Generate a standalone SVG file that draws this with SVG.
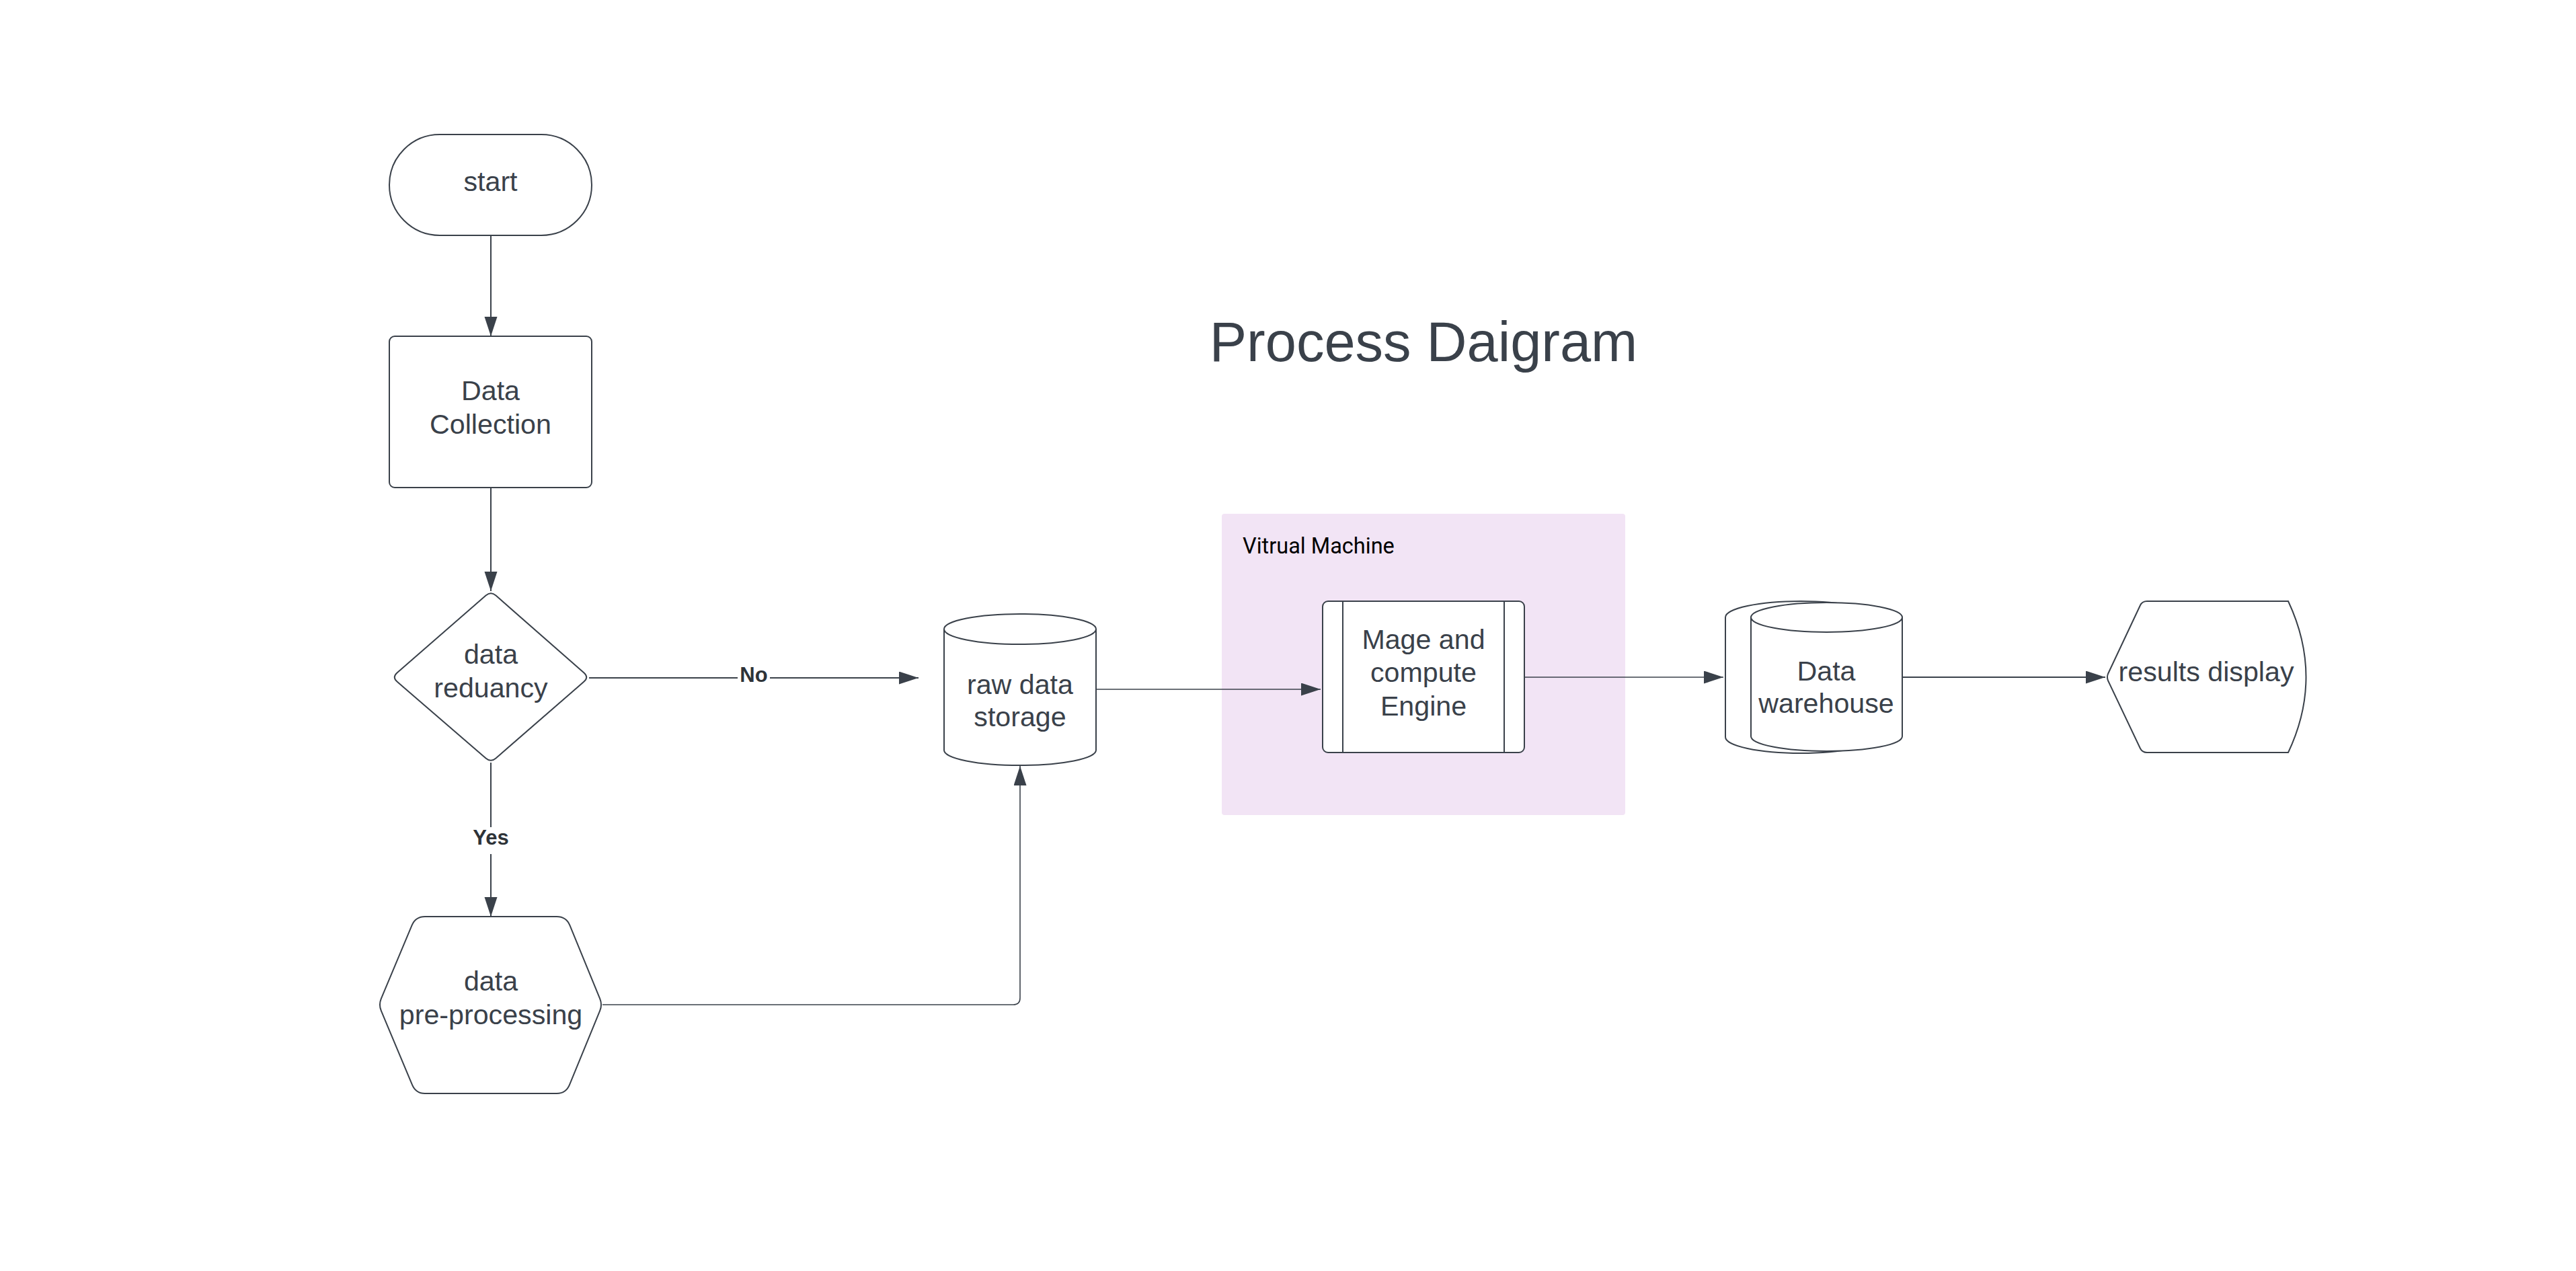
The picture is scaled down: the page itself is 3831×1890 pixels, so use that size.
<svg xmlns="http://www.w3.org/2000/svg" width="3831" height="1890" viewBox="0 0 3831 1890">
<defs>
<marker id="arrow" markerUnits="userSpaceOnUse" markerWidth="30" markerHeight="20" refX="29" refY="9.5" orient="auto">
<path d="M0,0 L29,9.5 L0,19 Z" fill="#3a414a"/>
</marker>
<style>
.shape{fill:#ffffff;stroke:#3a414a;stroke-width:2}
.lbl{font-family:"Liberation Sans",Arial,sans-serif;font-size:41.2px;fill:#3a414a;text-anchor:middle}
.edge{fill:none;stroke:#3a414a;stroke-width:2;marker-end:url(#arrow)}
.thin{stroke-width:1.3}
.elbl{font-family:"Liberation Sans",Arial,sans-serif;font-size:31px;font-weight:bold;fill:#2e3338;text-anchor:middle}
</style>
</defs>
<rect width="3831" height="1890" fill="#ffffff"/>

<g id="title">
<text x="2117" y="537" style="font-family:'Liberation Sans',Arial,sans-serif;font-size:83px;fill:#3a414a;text-anchor:middle">Process Daigram</text>
</g>

<g id="vm-container">
<rect x="1817" y="764" width="600" height="448" rx="4" fill="#f2e4f5"/>
<text x="1848" y="823" style="font-family:Roboto,'Liberation Sans',sans-serif;font-size:32.5px;fill:#000000">Vitrual Machine</text>
</g>

<g id="connectors">
<path class="edge" d="M730,350 V500"/>
<path class="edge" d="M730,725 V879"/>
<path class="edge" d="M876,1008 H1097 M1145,1008 H1366"/>
<path class="edge" d="M730,1134 V1230 M730,1270 V1363"/>
<path class="edge" style="stroke-width:1.6" d="M896,1494 H1507 Q1517,1494 1517,1484 V1139"/>
<path class="edge thin" d="M1630,1025 H1964"/>
<path class="edge" style="stroke-width:1.5" d="M2267,1007 H2563"/>
<path class="edge" d="M2829,1007 H3131"/>
<text class="elbl" x="1121" y="1014">No</text>
<text class="elbl" x="730" y="1256">Yes</text>
</g>

<g id="start">
<rect class="shape" x="579" y="200" width="301" height="150" rx="75"/>
<text class="lbl" x="729.5" y="284">start</text>
</g>

<g id="data-collection">
<rect class="shape" x="579" y="500" width="301" height="225" rx="8"/>
<text class="lbl" x="729.5" y="595">Data</text>
<text class="lbl" x="729.5" y="645">Collection</text>
</g>

<g id="data-redundancy">
<path class="shape" d="M722.5,885.6 Q730,879 737.5,885.6 L868.5,1000.4 Q876,1007 868.5,1013.6 L737.5,1127.4 Q730,1134 722.5,1127.4 L590.5,1013.6 Q583,1007 590.5,1000.4 Z"/>
<text class="lbl" x="730" y="987">data</text>
<text class="lbl" x="730" y="1037">reduancy</text>
</g>

<g id="pre-processing">
<path class="shape" d="M566.9,1484.8 L612.6,1375.9 Q618,1363 632,1363 L828,1363 Q842,1363 847.4,1375.9 L892.1,1484.8 Q896,1494 892.1,1503.2 L847.4,1612.1 Q842,1626 828,1626 L632,1626 Q618,1626 612.6,1612.1 L566.9,1503.2 Q563,1494 566.9,1484.8 Z"/>
<text class="lbl" x="730" y="1473">data</text>
<text class="lbl" x="730" y="1523">pre-processing</text>
</g>

<g id="raw-data-storage">
<path class="shape" d="M1404,935.5 L1404,1115.5 A113,22.5 0 0 0 1630,1115.5 L1630,935.5 A113,22.5 0 0 0 1404,935.5 Z"/>
<path class="shape" style="fill:none" d="M1404,935.5 A113,22.5 0 0 0 1630,935.5"/>
<text class="lbl" x="1517" y="1032">raw data</text>
<text class="lbl" x="1517" y="1080">storage</text>
</g>

<g id="compute-engine">
<rect class="shape" x="1967" y="894" width="300" height="225" rx="8"/>
<line x1="1997" y1="894" x2="1997" y2="1119" stroke="#3a414a" stroke-width="2"/>
<line x1="2237" y1="894" x2="2237" y2="1119" stroke="#3a414a" stroke-width="2"/>
<text class="lbl" x="2117" y="965">Mage and</text>
<text class="lbl" x="2117" y="1014">compute</text>
<text class="lbl" x="2117" y="1064">Engine</text>
</g>

<g id="data-warehouse">
<path class="shape" d="M2566,918 L2566,1096 A112,24 0 0 0 2790,1096 L2790,918 A112,24 0 0 0 2566,918 Z"/>
<path class="shape" d="M2604,918 L2604,1095 A112.5,22 0 0 0 2829,1095 L2829,918 A112.5,22 0 0 0 2604,918 Z"/>
<path class="shape" style="fill:none" d="M2604,918 A112.5,22 0 0 0 2829,918"/>
<text class="lbl" x="2716" y="1012">Data</text>
<text class="lbl" x="2716" y="1060">warehouse</text>
</g>

<g id="results-display">
<path class="shape" d="M3135,1002 L3183,900 Q3186,894 3193,894 L3403,894 Q3456,1007 3403,1119 L3193,1119 Q3186,1119 3183,1113 L3135,1012 Q3133,1007 3135,1002 Z"/>
<text class="lbl" x="3281" y="1013">results display</text>
</g>
</svg>
